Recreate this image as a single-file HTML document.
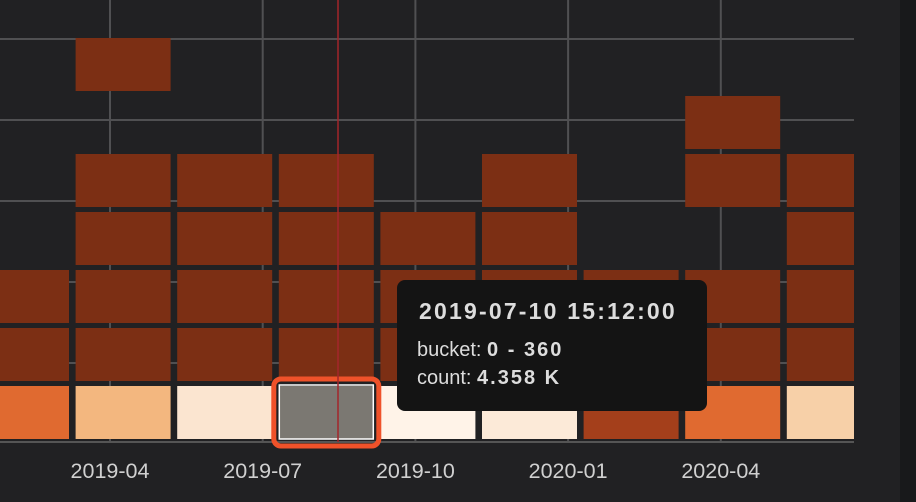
<!DOCTYPE html>
<html><head><meta charset="utf-8"><style>
body{margin:0;width:916px;height:502px;background:#212123;overflow:hidden;font-family:"Liberation Sans",sans-serif;}
#strip{position:absolute;left:900px;top:0;width:16px;height:502px;background:#18191b;}
#tip{position:absolute;left:397px;top:280px;width:310px;height:131px;background:#141414;border-radius:8px;color:#ddd;}
#tip .t{position:absolute;left:22px;top:18px;font-weight:bold;font-size:23px;letter-spacing:2.2px;white-space:nowrap;}
#tip .l{position:absolute;left:20px;font-size:20px;white-space:nowrap;}
#tip b{letter-spacing:2px;}
</style></head><body>
<div id="strip"></div>
<svg id="chart" width="900" height="502" style="position:absolute;left:0;top:0"></svg>
<div id="tip">
<div class="t">2019-07-10 15:12:00</div>
<div class="l" style="top:59px">bucket: <b>0 - 360</b></div>
<div class="l" style="top:87px">count: <b>4.358 K</b></div>
</div>
<script>
const columns=["2019-02","2019-04","2019-06","2019-07","2019-09","2019-11","2020-01","2020-03","2020-05"];
const buckets=["0-360","360-720","720-1080","1080-1440","1440-1800","1800-2160","2160-2520"];
const bottomCounts=[2000,3100,4200,4358,4500,4300,1100,2000,3600];
const upperCounts=[
 [40,40,null,null,null,null],
 [40,40,40,40,null,40],
 [40,40,40,40,null,null],
 [40,40,40,40,null,null],
 [40,40,40,null,null,null],
 [40,40,40,40,null,null],
 [40,40,null,null,null,null],
 [40,40,null,40,40,null],
 [40,40,40,40,null,null]];
const xTicks=["2019-04","2019-07","2019-10","2020-01","2020-04"];
const svg=document.getElementById('chart');
const NS='http://www.w3.org/2000/svg';
const colX=i=>-26+i*101.6, colW=95;
const rowY=r=>386-r*58, rowH=53;
const tickX=i=>110+i*152.7;
const gridY=[39,120,201,282,363];
function col(v){
 const stops=[[0,[122,46,20]],[1100,[164,63,27]],[2000,[224,106,48]],[3100,[243,183,127]],[3600,[247,208,168]],[4200,[251,229,208]],[4500,[255,243,232]]];
 for(let i=1;i<stops.length;i++){if(v<=stops[i][0]){const a=stops[i-1],b=stops[i],t=(v-a[0])/(b[0]-a[0]);return 'rgb('+a[1].map((c,k)=>Math.round(c+(b[1][k]-c)*t)).join(',')+')';}}
 return 'rgb(255,243,232)';
}
function mk(t,a){const e=document.createElementNS(NS,t);for(const k in a)e.setAttribute(k,a[k]);svg.appendChild(e);return e;}
gridY.forEach(y=>{const e=mk('line',{x1:0,x2:854,y1:y,y2:y,stroke:'#505052','stroke-width':2});

});
xTicks.forEach((t,i)=>{const e=mk('line',{x1:tickX(i),x2:tickX(i),y1:0,y2:442,stroke:'#505052','stroke-width':2});


const tx=mk('text',{x:tickX(i),y:478,fill:'#d0d0d0','font-size':21.5,'text-anchor':'middle','font-family':'Liberation Sans, sans-serif'});
tx.textContent=t;

});
const ax=mk('line',{x1:0,x2:854,y1:442,y2:442,stroke:'#555','stroke-width':2});


columns.forEach((c,i)=>{
 const w=Math.min(colX(i)+colW,854)-colX(i);
 const b=mk('rect',{x:colX(i),y:rowY(0),width:w,height:rowH,fill:i===3?'#7b7872':col(bottomCounts[i])});
 
 
 upperCounts[i].forEach((v,r)=>{if(v==null)return;
  const e=mk('rect',{x:colX(i),y:rowY(r+1),width:w,height:rowH,fill:col(v)});
  
  });
});
const hl=mk('rect',{x:colX(3)-5,y:rowY(0)-7,width:colW+10,height:rowH+14,rx:7,fill:'none',stroke:'#ef522a','stroke-width':5});


const hw=mk('rect',{x:colX(3)+0.5,y:rowY(0)-1,width:colW-1,height:rowH+1,fill:'none',stroke:'#fff','stroke-width':1.5});


const ch=mk('line',{x1:338,x2:338,y1:0,y2:442,stroke:'#a3262b','stroke-width':1.5});


</script>
</body></html>
